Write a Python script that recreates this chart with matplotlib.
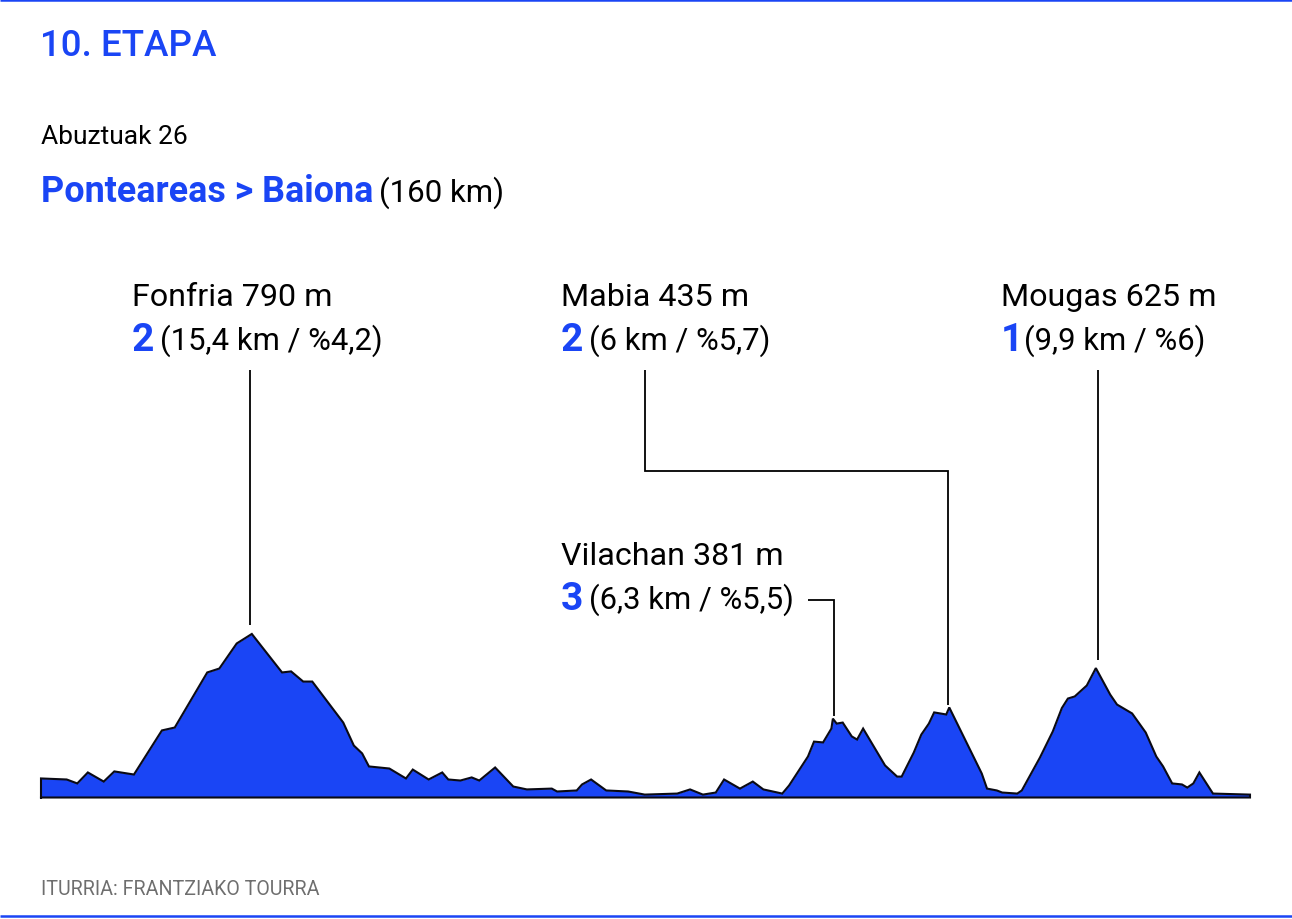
import matplotlib
matplotlib.use('Agg')
import matplotlib.pyplot as plt
from matplotlib.transforms import Affine2D

plt.rcParams['font.family'] = ['Roboto', 'DejaVu Sans']

BLUE = '#1a45f5'
W, H = 1292, 920

# stage profile, km from the start and altitude in metres
km = [0, 3.4, 4.8, 6.2, 8.3, 9.7, 12.3, 16.0, 17.7, 22.0, 23.6, 25.9, 27.9,
      31.9, 33.1, 34.7, 35.9, 40.0, 41.4, 42.5, 43.4, 46.1, 48.3, 49.2, 51.3,
      53.1, 53.9, 55.5, 57.0, 58.0, 60.1, 62.5, 64.3, 67.6, 68.3, 70.9, 71.6,
      72.8, 74.8, 77.7, 79.9, 84.2, 85.9, 87.6, 89.3, 90.4, 92.5, 94.2, 95.6,
      98.1, 99.0, 101.5, 102.3, 103.5, 104.6, 104.8, 105.3, 106.1, 107.3,
      108.0, 108.8, 111.7, 113.3, 113.9, 115.5, 116.5, 117.5, 118.2, 119.8,
      120.2, 124.5, 125.2, 126.5, 127.2, 129.2, 129.8, 132.2, 133.9, 135.1,
      135.9, 136.8, 138.4, 139.6, 141.5, 142.4, 144.4, 146.2, 147.6, 148.5,
      149.7, 151.0, 151.7, 152.5, 153.3, 155.1, 160]
altitude = [92, 87, 68, 121, 77, 126, 111, 324, 338, 604, 623, 744, 790,
            604, 609, 560, 560, 362, 251, 213, 150, 140, 92, 135, 87,
            121, 87, 82, 97, 82, 145, 53, 39, 43, 29, 34, 63,
            87, 34, 29, 14, 19, 39, 14, 24, 87, 43, 77, 39,
            19, 58, 198, 270, 266, 333, 381, 357, 362, 295,
            280, 333, 155, 101, 101, 217, 304, 357, 411, 401,
            435, 116, 43, 34, 24, 19, 34, 193, 319, 432,
            478, 488, 541, 625, 497, 449, 406, 314, 198, 150,
            68, 63, 48, 68, 121, 19, 14]

# climbs: name line, category, detail
climbs = [('Fonfria 790 m', '2', '(15,4 km / %4,2)'),
          ('Mabia 435 m', '2', '(6 km / %5,7)'),
          ('Vilachan 381 m', '3', '(6,3 km / %5,5)'),
          ('Mougas 625 m', '1', '(9,9 km / %6)')]
climb_px = [(132, 296), (561, 296), (561, 555), (1001, 296)]

fig = plt.figure(figsize=(W / 100, H / 100), dpi=100)
ax = fig.add_axes([41 / W, (H - 798.5) / H, 1209 / W, 400 / H])
ax.set_xlim(0, 160)
ax.set_ylim(0, 400 * 4.83)
ax.axis('off')
ax.fill_between(km, altitude, 0, color=BLUE, lw=0, clip_on=False)
ax.plot([0] + km + [160, 0], [0] + altitude + [0, 0], color='#0a0a14', lw=1.5,
        solid_joinstyle='miter', clip_on=False)

# everything outside the profile is placed in image pixels, y going down
px = Affine2D().scale(1, -1).translate(0, H)


def label(x, y, s, colour, size, weight='normal'):
    fig.text(x, y, s, color=colour, fontsize=size, fontweight=weight,
             transform=px, ha='left', va='baseline')


def rule(xs, ys, colour='black', lw=1.3):
    fig.add_artist(plt.Line2D(xs, [y + 0.5 for y in ys], color=colour, lw=lw,
                              transform=px, solid_capstyle='butt',
                              solid_joinstyle='miter'))


rule([0, W], [0.5, 0.5], BLUE, 1.8)
rule([0, W], [916, 916], BLUE, 1.8)

label(40, 56, '10. ETAPA', BLUE, 26.5, 'medium')
label(41, 144, 'Abuztuak 26', 'black', 19)
label(41, 202, 'Ponteareas > Baiona', BLUE, 25.8, 'bold')
label(379, 202, '(160 km)', 'black', 22.5)
label(41, 895, 'ITURRIA: FRANTZIAKO TOURRA', '#6e6e6e', 14.1)

for (name, cat, detail), (x, y) in zip(climbs, climb_px):
    label(x, y + 10, name, 'black', 23.2)
    label(x, y + 55, cat, BLUE, 28, 'bold')
    label(x + 28 if cat != '1' else x + 23, y + 54, detail, 'black', 22.3)

# leader lines from the labels down to the summits
rule([250, 250], [370, 625])
rule([645, 645, 948, 948], [370, 471, 471, 705])
rule([808, 834, 834], [600, 600, 716])
rule([1098, 1098], [370, 660])

fig.savefig('out.png', dpi=100)
